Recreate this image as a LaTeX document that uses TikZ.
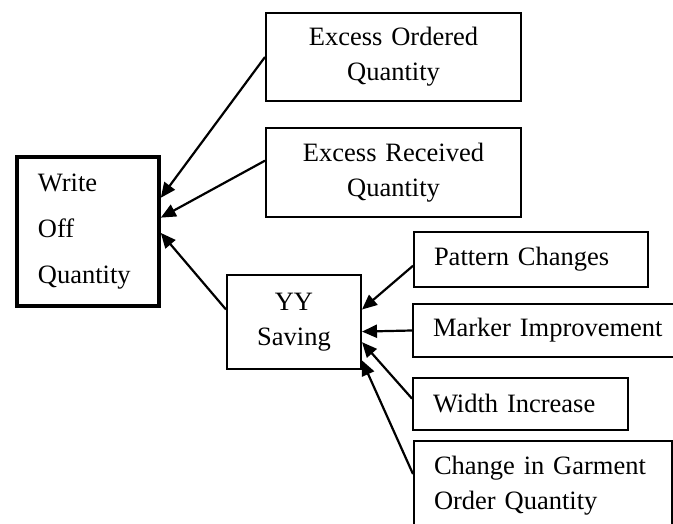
\documentclass[tikz,border=0pt]{standalone}
\usepackage{fontspec}
\setmainfont{Liberation Serif}
\usetikzlibrary{positioning,calc,arrows.meta}
\tikzset{box/.style={draw, line width=2pt, inner sep=0pt, anchor=north west, font=\fontsize{26.5}{35}\selectfont}}
\tikzset{lbox/.style={box, align=left, inner xsep=20pt}}
\tikzset{cbox/.style={box, align=center}}
\tikzset{arr/.style={line width=2.2pt, -{Triangle[length=15pt,width=13pt]}}}

\begin{document}
\begin{tikzpicture}[x=1pt, y=-1pt]
\useasboundingbox (0,0) rectangle (673,524);
\clip (0,0) rectangle (673,524);

\node[box, line width=3.8pt, align=left, inner xsep=21pt, text width=100pt, minimum height=149pt, font=\fontsize{26.5}{46}\selectfont] (wq) at (15,155) {Write\\Off\\Quantity};
\node[cbox, text width=255pt, minimum height=88pt] (eo) at (265,12) {Excess Ordered\\Quantity};
\node[cbox, text width=255pt, minimum height=89pt] (er) at (265,127) {Excess Received\\Quantity};
\node[cbox, text width=134pt, minimum height=94pt] (yy) at (226,274) {YY\\Saving};

\node[lbox, text width=194pt, minimum height=55pt] (pc) at (413,231) {Pattern Changes};
\node[lbox, text width=240pt, minimum height=53pt] (mi) at (412,303) {Marker Improvement};
\node[lbox, text width=175pt, minimum height=52pt] (wi) at (412,377) {Width Increase};
\node[lbox, text width=218pt, minimum height=90pt] (cg) at (413,440) {Change in Garment\\Order Quantity};

% into write off
\draw[arr] (eo.west) -- ($(wq.north east)!0.28!(wq.south east)$);
\draw[arr] ($(er.north west)!0.37!(er.south west)$) -- ($(wq.north east)!0.41!(wq.south east)$);
\draw[arr] ($(yy.north west)!0.37!(yy.south west)$) -- ($(wq.north east)!0.51!(wq.south east)$);

% into yy saving
\draw[arr] ($(pc.north west)!0.61!(pc.south west)$) -- ($(yy.north east)!0.37!(yy.south east)$);
\draw[arr] (mi.west) -- ($(yy.north east)!0.6!(yy.south east)$);
\draw[arr] ($(wi.north west)!0.4!(wi.south west)$) -- ($(yy.north east)!0.71!(yy.south east)$);
\draw[arr] ($(cg.north west)!0.37!(cg.south west)$) -- ($(yy.north east)!0.9!(yy.south east)$);
\end{tikzpicture}
\end{document}
